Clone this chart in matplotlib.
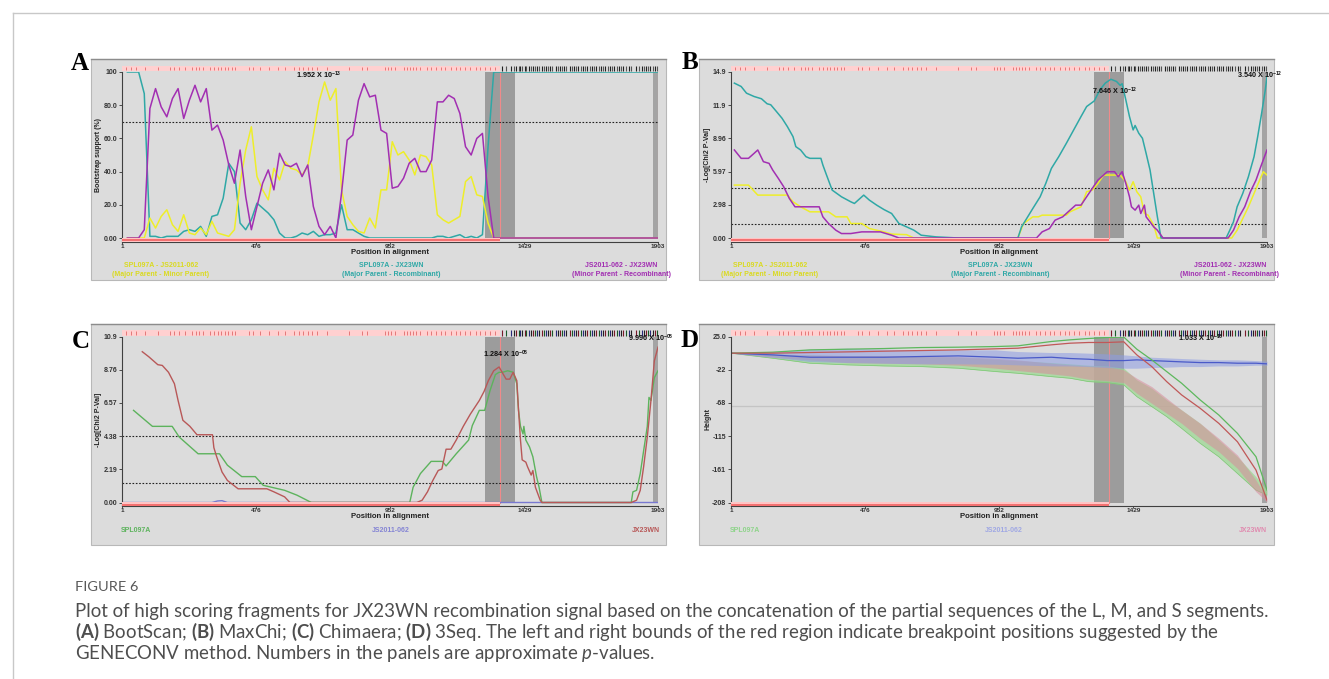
import matplotlib
matplotlib.use("Agg")
import matplotlib.pyplot as plt
from matplotlib.patches import Rectangle

plt.rcParams['mathtext.fontset'] = 'custom'
plt.rcParams['mathtext.rm'] = 'Lato'
plt.rcParams['mathtext.it'] = 'Lato:italic'
plt.rcParams['mathtext.bf'] = 'Lato:bold'
plt.rcParams['mathtext.default'] = 'regular'

SANS = 'Liberation Sans'
SERIF = 'Liberation Serif'
CAP_FONT = 'Lato'

# ------------------------------------------------------------------ data
pos_ticks = [1, 476, 952, 1429, 1903]
pos_tick_labels = ['1', '476', '952', '1429', '1903']

bp_region = (1290, 1396)      # breakpoint region (dark grey)
bp_mark = 1342                # GENECONV bound (red line / pink band end)
end_region = (1884, 1903)

sites_pink = [14, 33, 52, 83, 128, 172, 187, 204, 223, 251, 263, 276, 289, 312, 327,
              341, 353, 365, 378, 390, 403, 451, 466, 492, 521, 553, 581, 610, 629,
              644, 660, 675, 692, 730, 806, 854, 870, 933, 946, 956, 969, 1003, 1012,
              1022, 1032, 1045, 1060, 1083, 1098, 1117, 1133, 1146, 1168, 1187, 1202,
              1218, 1237, 1256, 1273, 1288, 1307, 1326]
sites_dark = [1350, 1362, 1380, 1392, 1400, 1408, 1415, 1422, 1430, 1436, 1445, 1452,
              1460, 1466, 1474, 1480, 1490, 1498, 1505, 1512, 1520, 1528, 1540, 1548,
              1556, 1562, 1570, 1578, 1590, 1598, 1605, 1612, 1620, 1628, 1636, 1645,
              1652, 1660, 1668, 1675, 1684, 1692, 1700, 1708, 1716, 1724, 1732, 1740,
              1748, 1756, 1764, 1772, 1780, 1790, 1800, 1808, 1825, 1835, 1845, 1852,
              1860, 1868, 1876, 1884, 1892, 1898]

# A: BootScan
a_pos = [20, 40, 60, 80, 100, 120, 140, 160, 180, 200, 220, 240, 260, 280, 300, 320,
         340, 360, 380, 400, 420, 440, 460, 480, 500, 520, 540, 560, 580, 600, 620,
         640, 660, 680, 700, 720, 740, 760, 780, 800, 820, 840, 860, 880, 900, 920,
         940, 960, 980, 1000, 1020, 1040, 1060, 1080, 1100, 1120, 1140, 1160, 1180,
         1200, 1220, 1240, 1260, 1280, 1300, 1320, 1903]
a_yellow = [0, 0, 0, 0,
            12, 6, 13, 17, 8, 4, 14, 3, 2, 6, 2,
            10, 3, 2, 1, 5, 33, 53, 67, 37, 29, 23, 42, 35, 46, 42,
            41, 38, 43, 62, 82, 94, 83, 90, 29, 13, 8, 4, 3, 12,
            6, 29, 29, 58, 50, 52, 47, 38, 50, 49, 44,
            14, 11, 9, 11, 13, 34, 37, 26, 25, 9, 0,
            0]
a_teal = [100, 100, 100, 87,
          1, 1, 0, 1, 1, 1, 4, 5, 4, 7, 1,
          13, 14, 24, 45, 40, 9, 5, 11, 21, 18, 15, 11, 3, 0, 0,
          1, 3, 2, 4, 1, 2, 2, 3, 20, 5, 5, 3, 1, 0,
          0, 0, 0, 0, 0, 0, 0, 0, 0, 0, 0,
          1, 1, 0, 1, 2, 0, 1, 0, 2, 55, 100,
          100]
a_purple = [0, 0, 0, 5,
            78, 90, 79, 73, 84, 90, 72, 83, 92, 82, 90,
            65, 68, 59, 44, 33, 53, 25, 5, 19, 33, 41, 29, 51, 44, 43,
            45, 37, 44, 19, 7, 2, 7, 0, 27, 59, 62, 83, 93, 85,
            86, 65, 63, 30, 31, 36, 45, 48, 40, 40, 47,
            82, 82, 86, 84, 75, 55, 50, 60, 63, 25, 0,
            0]
a_yticks = [0, 20, 40, 60, 80, 100]
a_ytick_labels = ['0.00', '20.0', '40.0', '60.0', '80.0', '100']
a_thresholds = [70]

# B: MaxChi
b_teal_pos = [13, 37, 56, 83, 109, 129, 142, 162, 182, 201, 221, 231, 248, 267, 281,
              320, 327, 340, 360, 393, 426, 439, 472, 492, 518, 544, 571, 597, 624, 650,
              676, 729, 808, 1019, 1032, 1072, 1098, 1118, 1138, 1164, 1191, 1217, 1243,
              1263, 1290, 1310, 1329, 1349, 1369, 1382, 1389, 1402, 1415, 1428, 1435,
              1448, 1461, 1474, 1488, 1501, 1514, 1527, 1758, 1771, 1784, 1797, 1817,
              1837, 1857, 1870, 1884, 1897, 1903]
b_teal = [13.9, 13.6, 13.0, 12.7, 12.5, 12.05, 11.96, 11.36, 10.75, 10.0, 9.1, 8.2, 7.9,
          7.3, 7.15, 7.15, 6.55, 5.65, 4.3, 3.7, 3.25, 3.1, 3.85, 3.4, 2.95, 2.55, 2.2,
          1.3, 1.0, 0.7, 0.25, 0.1, 0, 0, 1.0, 2.65, 3.7, 4.9, 6.25, 7.3, 8.5, 9.7, 10.9,
          11.8, 12.3, 13.3, 13.9, 14.25, 14.05, 13.7, 13.85, 12.4, 10.9, 9.7, 10.1, 9.4,
          8.95, 7.6, 6.1, 4.0, 1.9, 0, 0, 0.7, 1.45, 2.8, 4.0, 5.5, 7.3, 9.1, 11.2, 13.3,
          14.5]
b_purple_pos = [13, 37, 63, 83, 96, 116, 136, 149, 169, 188, 208, 228, 314, 327, 347,
                373, 393, 426, 465, 531, 571, 597, 1085, 1105, 1131, 1151, 1178, 1204,
                1224, 1243, 1263, 1283, 1303, 1323, 1336, 1362, 1375, 1389, 1402, 1415,
                1422, 1435, 1448, 1455, 1468, 1474, 1488, 1501, 1514, 1534, 1765, 1784,
                1804, 1824, 1844, 1864, 1883, 1903]
b_purple = [7.9, 7.15, 7.15, 7.6, 7.9, 6.85, 6.7, 6.1, 5.35, 4.6, 3.55, 2.8, 2.8, 1.9,
            1.3, 0.7, 0.4, 0.4, 0.55, 0.55, 0.25, 0, 0, 0.55, 0.85, 1.6, 1.9, 2.5, 2.95,
            2.95, 3.7, 4.45, 5.2, 5.65, 5.95, 5.95, 5.5, 5.95, 4.9, 3.7, 2.8, 2.5, 2.95,
            2.2, 2.95, 1.9, 1.45, 1.0, 0.7, 0, 0, 0.7, 1.9, 2.8, 4.15, 5.2, 6.55, 7.9]
b_yellow_pos = [13, 63, 96, 201, 221, 248, 281, 347, 373, 413, 426, 465, 492, 544, 571,
                624, 650, 1019, 1039, 1072, 1092, 1105, 1191, 1204, 1243, 1263, 1283,
                1303, 1323, 1382, 1402, 1415, 1428, 1441, 1455, 1468, 1481, 1501, 1514,
                1778, 1797, 1817, 1837, 1857, 1877, 1890, 1903]
b_yellow = [4.75, 4.75, 3.85, 3.85, 3.25, 2.8, 2.35, 2.35, 1.9, 1.9, 1.3, 1.3, 0.85,
            0.55, 0.35, 0.3, 0, 0, 1.3, 1.9, 1.9, 2.05, 2.05, 2.35, 2.8, 4.15, 4.3, 4.9,
            5.65, 5.65, 5.05, 4.3, 5.05, 4.15, 3.7, 2.2, 2.05, 1.15, 0, 0, 0.7, 1.75, 2.8,
            4.0, 5.2, 5.95, 5.65]
b_yticks = [0, 2.98, 5.96, 8.94, 11.92, 14.9]
b_ytick_labels = ['0.00', '2.98', '5.97', '8.96', '11.9', '14.9']
b_thresholds = [4.45, 1.29]

# C: Chimaera
c_red_pos = [73, 96, 128, 144, 166, 187, 200, 217, 242, 267, 322, 327, 337, 356, 375,
             413, 515, 540, 578, 597, 1047, 1066, 1085, 1104, 1123, 1136, 1151, 1168,
             1187, 1212, 1237, 1269, 1286, 1301, 1320, 1339, 1364, 1377, 1389, 1402,
             1408, 1415, 1421, 1434, 1440, 1453, 1459, 1468, 1485, 1491, 1808, 1827,
             1840, 1852, 1865, 1878, 1890, 1903]
c_red = [9.9, 9.57, 9.05, 9.0, 8.55, 7.8, 6.7, 5.4, 5.0, 4.45, 4.45, 3.6, 3.0, 2.0, 1.45,
         0.9, 0.9, 0.7, 0.37, 0, 0, 0.15, 0.7, 1.45, 2.1, 2.2, 3.5, 3.5, 4.1, 5.0, 5.8,
         6.7, 7.3, 8.0, 8.65, 8.9, 8.1, 8.1, 8.55, 8.0, 6.1, 4.1, 2.8, 2.65, 2.35, 1.8,
         2.1, 1.0, 0.15, 0, 0, 0.15, 0.8, 2.35, 4.3, 6.7, 9.3, 10.2]
c_green_pos = [42, 109, 179, 204, 271, 347, 375, 426, 474, 502, 578, 622, 673, 1022,
               1034, 1060, 1098, 1138, 1151, 1187, 1231, 1244, 1269, 1288, 1307, 1326,
               1339, 1351, 1370, 1389, 1402, 1408, 1415, 1424, 1427, 1434, 1447, 1459,
               1472, 1481, 1491, 1808, 1814, 1827, 1840, 1852, 1865, 1871, 1878, 1890,
               1903]
c_green = [6.05, 5.0, 5.0, 4.3, 3.2, 3.2, 2.45, 1.7, 1.7, 1.13, 0.8, 0.48, 0, 0, 1.0,
           1.9, 2.7, 2.7, 2.4, 3.2, 4.1, 5.05, 6.05, 6.05, 7.35, 8.4, 8.55, 8.55, 8.65,
           8.55, 7.8, 6.05, 5.0, 4.5, 5.0, 4.1, 3.65, 3.0, 1.7, 1.0, 0, 0, 0.7, 0.8, 1.9,
           3.4, 5.0, 6.9, 6.7, 8.2, 8.65]
c_blue_pos = [1, 320, 340, 356, 375, 1903]
c_blue = [0, 0, 0.1, 0.12, 0, 0]
c_yticks = [0, 2.18, 4.36, 6.54, 8.72, 10.9]
c_ytick_labels = ['0.00', '2.19', '4.38', '6.57', '8.76', '10.9']
c_thresholds = [4.36, 1.29]

# D: 3Seq
d_pos = [1, 149, 281, 413, 544, 676, 808, 940, 1019, 1138, 1204, 1270, 1336, 1395,
         1441, 1494, 1547, 1600, 1666, 1732, 1798, 1864, 1903]
d_blue = [1.6, -0.8, -4.1, -4.1, -4.1, -3.1, -2.2, -4.1, -5.5, -4.1, -5.9, -6.9, -8.8,
          -8.8, -7.8, -8.8, -9.7, -10.6, -11.6, -11.6, -12.5, -12.5, -13.4]
d_blue_hi = [1.6, 3.9, 7.2, 8.6, 7.2, 6.2, 6.2, 6.2, 3.9, 2.5, 2.5, 1.6, 0.6, -0.8, -2.2,
             -4.1, -5.0, -5.9, -6.9, -7.8, -7.8, -8.8, -9.7]
d_blue_lo = [1.6, -4.1, -10.2, -11.6, -12.5, -13.4, -13.4, -13.9, -14.8, -16.3, -16.3,
             -17.2, -18.6, -19.5, -19.5, -18.6, -18.1, -17.2, -17.2, -16.3, -16.3, -15.3,
             -15.3]
d_green = [1.6, 3.0, 6.2, 7.2, 8.1, 9.5, 10.0, 10.9, 11.9, 18.0, 20.3, 22.2, 23.6, 24.1,
           7.2, -7.8, -24.2, -40.6, -64.1, -85.2, -110.9, -143.8, -190.6]
d_red = [1.6, 1.6, 2.5, 3.4, 4.4, 5.3, 6.2, 7.7, 8.6, 13.3, 15.6, 16.6, 16.6, 17.5, -0.8,
         -17.2, -38.3, -57.0, -75.8, -96.9, -122.7, -162.5, -204.7]
d_green_hi = [1.6, 0.6, -0.8, -2.2, -2.2, -3.1, -4.1, -6.9, -8.8, -11.6, -13.4, -15.3,
              -16.3, -19.5, -35.9, -47.7, -64.1, -78.1, -96.9, -120.3, -143.8, -171.9,
              -190.6]
d_green_lo = [1.6, -5.5, -12.5, -14.8, -16.3, -17.2, -19.5, -24.2, -26.6, -31.3, -33.6,
              -38.3, -39.7, -43.0, -59.4, -73.4, -87.5, -103.9, -125.0, -143.8, -167.2,
              -190.6, -197.7]
d_pink_hi = [1.6, 0.2, -0.8, -1.7, -1.7, -2.2, -3.1, -5.5, -7.8, -12.5, -14.8, -16.3,
             -17.2, -21.9, -33.6, -45.3, -61.7, -78.1, -96.9, -118.0, -141.4, -176.6,
             -202.4]
d_pink_lo = [1.6, -4.1, -7.8, -11.6, -12.5, -13.4, -15.3, -19.5, -22.8, -27.5, -30.3,
             -35.0, -36.9, -39.7, -54.7, -68.8, -82.8, -96.9, -118.0, -136.7, -160.2,
             -193.0, -207.1]
d_yticks = [25, -21.6, -68.2, -114.8, -161.4, -208]
d_ytick_labels = ['25.0', '-22', '-68', '-115', '-161', '-208']
d_refline = -73

caption_lines = [
    "Plot of high scoring fragments for JX23WN recombination signal based on the concatenation of the partial sequences of the L, M, and S segments.",
    r"$\mathbf{(A)}$ BootScan; $\mathbf{(B)}$ MaxChi; $\mathbf{(C)}$ Chimaera; $\mathbf{(D)}$ 3Seq. The left and right bounds of the red region indicate breakpoint positions suggested by the",
    r"GENECONV method. Numbers in the panels are approximate $\mathit{p}$-values.",
]

# ------------------------------------------------------------------ colours
PANEL_BG = '#DCDCDC'
GAP_GRAY = '#9C9C9C'
YELLOW = '#EEEE2A'
TEAL = '#2FA8A6'
PURPLE = '#A22FB2'
C_GREEN = '#5DB35D'
C_RED = '#B85858'
C_BLUE = '#7878D0'

W, H = 1329, 679
fig = plt.figure(figsize=(W / 100, H / 100), dpi=100)
fig.patch.set_facecolor('white')


def fx(x):
    return x / W


def fy(y):
    return 1 - y / H


def ftext(x, y, s, **kw):
    kw.setdefault('family', SANS)
    return fig.text(fx(x), fy(y), s, **kw)


def make_panel(bx, by, ax_x0, ax_x1, top_px, zero_px, ylo, yhi, yticks, ylabels,
               ylabel_text):
    fig.patches.append(Rectangle((fx(bx), fy(by + 221)), 575 / W, 221 / H,
                                 transform=fig.transFigure, facecolor=PANEL_BG,
                                 edgecolor='#B8B8B8', lw=0.8, zorder=-2))
    fig.lines.append(plt.Line2D([fx(bx), fx(bx + 575)], [fy(by), fy(by)],
                                transform=fig.transFigure, color='#8C8C8C', lw=1.0,
                                zorder=-1))
    bottom_px = zero_px + 3.5
    h = bottom_px - top_px
    ax = fig.add_axes([fx(ax_x0), fy(bottom_px), (ax_x1 - ax_x0) / W, h / H])
    ax.set_facecolor('none')
    span = zero_px - top_px
    ymin = ylo - 3.5 * (yhi - ylo) / span
    ax.set_xlim(1, 1903)
    ax.set_ylim(ymin, yhi)
    for s in ['top', 'right']:
        ax.spines[s].set_visible(False)
    for s in ['left', 'bottom']:
        ax.spines[s].set_color('#404040')
        ax.spines[s].set_linewidth(0.8)
    ax.set_xticks(pos_ticks, pos_tick_labels)
    ax.set_yticks(yticks, ylabels)
    ax.tick_params(axis='y', labelsize=5, length=2, width=0.6, pad=1.5,
                   colors='#333333')
    ax.tick_params(axis='x', labelsize=4.6, length=1.2, width=0.6, pad=0.4,
                   colors='#333333')
    for lab in ax.get_xticklabels() + ax.get_yticklabels():
        lab.set_fontweight('bold')
        lab.set_family(SANS)
    # breakpoint shading
    z0 = 3.5 / h
    ax.axvspan(bp_region[0], bp_region[1], ymin=z0, ymax=1, color=GAP_GRAY, lw=0,
               zorder=0.5)
    ax.axvspan(end_region[0], end_region[1], ymin=z0, ymax=1, color='#A4A4A4', lw=0,
               zorder=0.5)
    ax.axvline(bp_mark, ymin=z0, ymax=1, color='#F08A8A', lw=0.8, zorder=0.6)
    ax.axvline(1903, ymin=z0, ymax=1, color='#E8A0A0', lw=0.8, zorder=0.6)
    # informative sites band on top
    t = ax.get_xaxis_transform()
    y0, y1 = 1 + 1.0 / h, 1 + 6.5 / h
    ax.add_patch(Rectangle((1, y0), bp_mark - 1, y1 - y0, transform=t,
                           facecolor='#FFD0D0', edgecolor='none', clip_on=False,
                           zorder=3))
    ax.vlines(sites_pink, y0 + 1.0 / h, y1 - 1.0 / h, transform=t, colors='#E06A6A',
              lw=0.6, clip_on=False, zorder=4)
    # bottom pink band
    ax.add_patch(Rectangle((1, 0), bp_mark - 1, 4.0 / h, transform=t,
                           facecolor='#FFC4C4', edgecolor='none', clip_on=False,
                           zorder=3))
    ax.plot([1, bp_mark], [1.3 / h, 1.3 / h], transform=t, color='#F05858', lw=1.1,
            clip_on=False, zorder=3.5, solid_capstyle='butt')
    # labels
    cx = (ax_x0 + ax_x1) / 2
    ftext(cx, zero_px + 14, 'Position in alignment', fontsize=5.6, fontweight='bold',
          ha='center', va='center', color='#222222')
    ftext(ax_x0 - 23, (top_px + zero_px) / 2, ylabel_text, fontsize=5,
          fontweight='bold', ha='center', va='center', rotation=90, color='#222222')
    return ax, t, y0, y1, h


def draw_dark_sites(ax, t, y0, y1, h, colors):
    for i, s in enumerate(sites_dark):
        ax.vlines([s], y0, y1, transform=t, colors=colors[i % len(colors)], lw=0.8,
                  clip_on=False, zorder=4)


def pval(ax, x, y, s, ha='left'):
    ax.text(x, y, s, fontsize=5.2, fontweight='bold', family=SANS, ha=ha, va='center',
            color='#111111', zorder=6)


# ------------------------------------------------------------------ panel A
axA, tA, y0A, y1A, hA = make_panel(91, 59, 122, 658, 72, 238, 0, 100, a_yticks,
                                   a_ytick_labels, 'Bootstrap support (%)')
draw_dark_sites(axA, tA, y0A, y1A, hA, ['#222222', '#555555'])
for th in a_thresholds:
    axA.axhline(th, color='#222222', lw=0.8, ls=(0, (1.5, 1.5)), zorder=1)
axA.plot(a_pos, a_teal, color=TEAL, lw=1.1, zorder=2)
axA.plot(a_pos, a_yellow, color=YELLOW, lw=1.1, zorder=2.1)
axA.plot(a_pos, a_purple, color=PURPLE, lw=1.1, zorder=2.2)
pval(axA, 618, 98, r'1.952 X 10$^{-13}$')

# ------------------------------------------------------------------ panel B
axB, tB, y0B, y1B, hB = make_panel(699, 59, 731, 1267, 72, 238, 0, 14.9, b_yticks,
                                   b_ytick_labels, '-Log[Chi2 P-Val]')
draw_dark_sites(axB, tB, y0B, y1B, hB, ['#222222', '#555555'])
for th in b_thresholds:
    axB.axhline(th, color='#222222', lw=0.8, ls=(0, (1.5, 1.5)), zorder=1)
axB.plot(b_yellow_pos, b_yellow, color=YELLOW, lw=1.1, zorder=2)
axB.plot(b_teal_pos, b_teal, color=TEAL, lw=1.1, zorder=2.1)
axB.plot(b_purple_pos, b_purple, color=PURPLE, lw=1.1, zorder=2.2)
pval(axB, 1282, 13.2, r'7.646 X 10$^{-12}$')
pval(axB, 1797, 14.6, r'3.540 X 10$^{-12}$')

# ------------------------------------------------------------------ panel C
axC, tC, y0C, y1C, hC = make_panel(91, 324, 122, 658, 336.5, 502.5, 0, 10.9, c_yticks,
                                   c_ytick_labels, '-Log[Chi2 P-Val]')
draw_dark_sites(axC, tC, y0C, y1C, hC, ['#7A1A2A', '#1A5A2A', '#2A2A7A', '#222222'])
for th in c_thresholds:
    axC.axhline(th, color='#222222', lw=0.8, ls=(0, (1.5, 1.5)), zorder=1)
axC.plot(c_blue_pos, c_blue, color=C_BLUE, lw=1.0, zorder=2)
axC.plot(c_green_pos, c_green, color=C_GREEN, lw=1.0, zorder=2.1)
axC.plot(c_red_pos, c_red, color=C_RED, lw=1.0, zorder=2.2)
pval(axC, 1282, 9.7, r'1.284 X 10$^{-08}$')
pval(axC, 1797, 10.8, r'9.996 X 10$^{-08}$')

# ------------------------------------------------------------------ panel D
axD, tD, y0D, y1D, hD = make_panel(699, 324, 731, 1267, 336.5, 502.5, -208, 25,
                                   d_yticks, d_ytick_labels, 'Height')
draw_dark_sites(axD, tD, y0D, y1D, hD, ['#7A1A2A', '#1A5A2A', '#2A2A7A', '#222222'])
axD.axhline(d_refline, color='#C4C4C4', lw=0.9, zorder=0.4)
axD.fill_between(d_pos, d_green_lo, d_green_hi, color='#9ED894', alpha=0.75, lw=0,
                 zorder=1)
axD.plot(d_pos, d_green_lo, color='#7CC874', lw=0.5, zorder=1.05)
axD.fill_between(d_pos, d_pink_lo, d_pink_hi, color='#D88C9C', alpha=0.55, lw=0,
                 zorder=1.1)
axD.fill_between(d_pos, d_blue_lo, d_blue_hi, color='#8C9CE4', alpha=0.55, lw=0,
                 zorder=1.2)
axD.plot(d_pos, d_blue, color='#4A5AC8', lw=0.9, zorder=2)
axD.plot(d_pos, d_green, color='#5DB85D', lw=0.9, zorder=2.1)
axD.plot(d_pos, d_red, color='#C05858', lw=0.9, zorder=2.2)
pval(axD, 1587, 21.8, r'1.033 X 10$^{-18}$')

# ------------------------------------------------------------------ legends
def legend_pair(x, y, l1, l2, color):
    ftext(x, y, l1, fontsize=5, fontweight='bold', ha='center', va='center', color=color)
    ftext(x, y + 9, l2, fontsize=5, fontweight='bold', ha='center', va='center',
          color=color)


for off in (0, 609):
    legend_pair(161 + off, 266, 'SPL097A - JS2011-062', '(Major Parent - Minor Parent)',
                '#DADA20')
    legend_pair(391 + off, 266, 'SPL097A - JX23WN', '(Major Parent - Recombinant)', TEAL)
    legend_pair(621 + off, 266, 'JS2011-062 - JX23WN', '(Minor Parent - Recombinant)',
                PURPLE)

ftext(121, 530, 'SPL097A', fontsize=5, fontweight='bold', ha='left', va='center',
      color=C_GREEN)
ftext(391, 530, 'JS2011-062', fontsize=5, fontweight='bold', ha='center', va='center',
      color='#8484D4')
ftext(660, 530, 'JX23WN', fontsize=5, fontweight='bold', ha='right', va='center',
      color=C_RED)
ftext(730, 530, 'SPL097A', fontsize=5, fontweight='bold', ha='left', va='center',
      color='#8ED48A')
ftext(1004, 530, 'JS2011-062', fontsize=5, fontweight='bold', ha='center', va='center',
      color='#A0A8E4')
ftext(1267, 530, 'JX23WN', fontsize=5, fontweight='bold', ha='right', va='center',
      color='#E08CB0')

# ------------------------------------------------------------------ panel letters
for letter, x, y in [('A', 71, 70), ('B', 682, 69), ('C', 72, 348), ('D', 680, 347)]:
    ftext(x, y, letter, family=SERIF, fontsize=18, fontweight='bold', ha='left',
          va='baseline', color='black')

# ------------------------------------------------------------------ frame lines
fig.lines.append(plt.Line2D([fx(13), fx(13)], [fy(13), fy(679)],
                            transform=fig.transFigure, color='#C8C8C8', lw=1.0))
fig.lines.append(plt.Line2D([fx(13), fx(1329)], [fy(13), fy(13)],
                            transform=fig.transFigure, color='#C8C8C8', lw=1.0))

# ------------------------------------------------------------------ caption
CAP_COLOR = '#4E4E4E'
renderer = fig.canvas.get_renderer()
probe = fig.text(0, 0, caption_lines[0], fontsize=12, family=CAP_FONT)
w = probe.get_window_extent(renderer).width
probe.remove()
cap_size = 12 * 1188 / w

fig.text(fx(75), fy(591), 'FIGURE 6', fontsize=cap_size * 0.78, family=CAP_FONT,
         color='#595959', ha='left', va='baseline')
for line, base in zip(caption_lines, [617, 638, 659]):
    fig.text(fx(75), fy(base), line, fontsize=cap_size, family=CAP_FONT,
             color=CAP_COLOR, ha='left', va='baseline')

fig.savefig('out.png', dpi=100, facecolor='white')
